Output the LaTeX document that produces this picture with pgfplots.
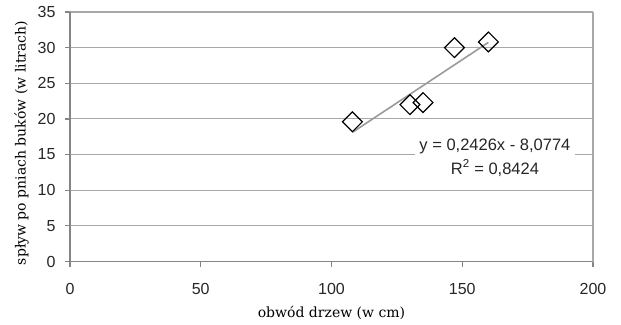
\documentclass[border=0pt]{standalone}
\usepackage{fontspec}
\setmainfont{Liberation Sans}
\newfontfamily\labelfont{DejaVu Serif}
\usepackage{pgfplots}
\pgfplotsset{compat=1.18}
\definecolor{axgray}{HTML}{858585}
\definecolor{gridgray}{HTML}{A8A8A8}
\definecolor{trendgray}{HTML}{9A9A9A}
\begin{document}
\begin{tikzpicture}
\path (-70pt,-62.5pt) rectangle (551pt,261.5pt);
\begin{axis}[
  at={(0pt,0pt)}, anchor=south west,
  scale only axis, width=523pt, height=249.5pt,
  xmin=0, xmax=200, ymin=0, ymax=35,
  xtick={0,50,...,200}, ytick={0,5,...,35},
  axis x line*=bottom, axis y line*=left,
  axis line style={axgray, line width=1.2pt},
  tick align=outside, major tick length=5pt,
  tick style={axgray, line width=1.2pt},
  ymajorgrids, major grid style={gridgray, line width=1.1pt},
  extra x ticks={200}, extra x tick labels={},
  extra x tick style={xmajorgrids=true, major tick length=0pt},
  tick label style={font=\fontsize{16}{19}\selectfont, text=black!85},
  xticklabel style={yshift=-13pt},
  yticklabel style={xshift=-6pt},
  /pgf/number format/assume math mode=true,
  xlabel={\labelfont\fontsize{14}{16}\selectfont obwód drzew (w cm)},
  ylabel={\labelfont\fontsize{14}{16}\selectfont spływ po pniach buków (w litrach)},
  xlabel style={at={(rel axis cs:0.5,0)}, anchor=center, yshift=-51.5pt},
  ylabel style={at={(rel axis cs:0,0.475)}, anchor=center, rotate=0, yshift=48.5pt},
  clip=false,
]
\addplot[only marks, mark=square, mark size=7pt,
  mark options={rotate=45, fill=white, draw=black, line width=1.2pt}]
  coordinates {(108,19.6) (130,22.0) (135,22.3) (147,30.0) (160,30.8)};
\addplot[trendgray, line width=1.6pt] coordinates {(108,18.12) (160,30.74)};
\node[fill=white, align=center, inner xsep=4.5pt, inner ysep=2pt,
  font=\fontsize{16.5}{24}\selectfont, text=black!85]
  at (axis cs:162.5,14.6) {y = 0,2426x - 8,0774\\R\textsuperscript{2} = 0,8424};
\end{axis}
\end{tikzpicture}
\end{document}
